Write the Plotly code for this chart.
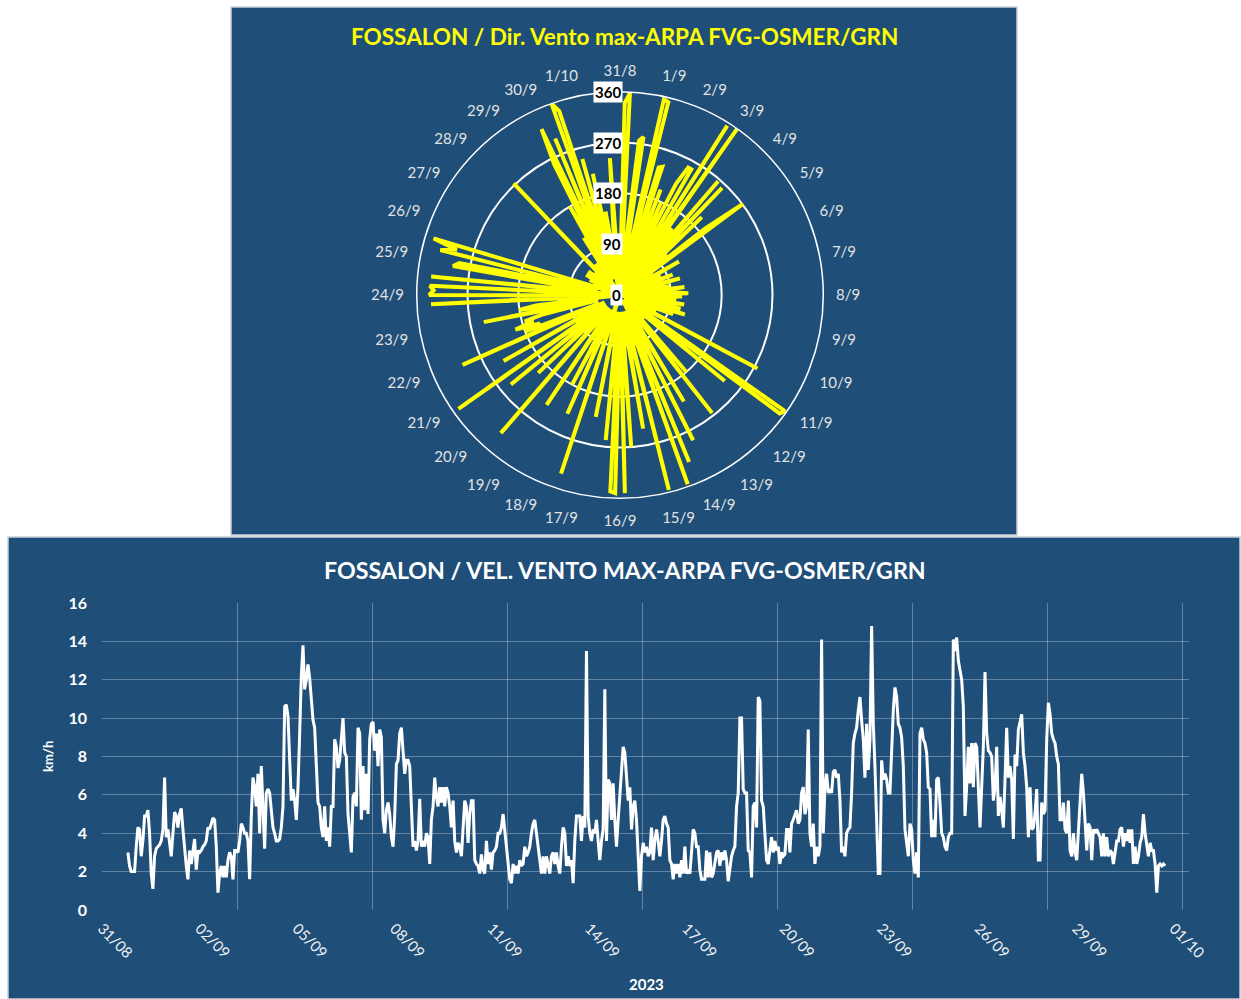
import pandas as pd
import plotly.graph_objects as go

W, H = 1241, 999
FONT = "Lato"
PANEL = "#1F4E79"
GRID = "rgba(255,255,255,0.30)"

# ---------------- data ----------------
# wind speed samples (km/h)
speed_kmh = [
    3.0, 2.3, 2.0, 2.0, 2.0, 3.3, 4.3, 4.2, 2.8, 3.6, 4.9, 4.9, 5.2, 4.0, 1.9, 1.1, 2.8, 3.2, 3.3, 3.4,
    3.6, 4.2, 6.9, 3.8, 4.2, 3.6, 2.8, 4.0, 5.1, 4.9, 4.3, 5.0, 5.3, 4.2, 3.0, 2.3, 1.6, 3.1, 2.4, 3.2,
    3.7, 2.1, 3.1, 3.0, 3.1, 3.3, 3.4, 3.6, 4.3, 4.2, 4.5, 4.8, 4.7, 3.3, 0.9, 1.9, 2.3, 1.7, 2.3, 1.7,
    2.6, 3.0, 2.8, 1.6, 3.1, 3.1, 3.0, 3.6, 4.5, 4.3, 4.0, 4.0, 3.6, 1.6, 4.9, 6.9, 6.4, 5.4, 7.1, 4.0,
    7.5, 5.4, 3.2, 6.1, 6.3, 6.1, 5.0, 4.3, 4.0, 3.6, 3.6, 3.7,
    4.3, 5.4, 10.6, 10.7, 10.1, 7.5, 5.7, 6.3, 5.7, 4.7, 6.4, 9.2, 12.2, 13.8, 11.5, 12.0, 12.8, 12.1, 10.9, 9.9,
    9.5, 7.1, 5.6, 5.4, 4.3, 3.8, 5.4, 3.6, 4.3, 3.3, 5.4, 5.4, 8.9, 8.5, 7.4, 7.8, 8.9, 10.0, 8.2, 8.0,
    5.0, 3.8, 3.0, 5.9, 6.1, 5.4, 9.5, 9.2, 4.7, 7.5, 5.2, 7.1, 5.0, 8.9, 9.7, 9.8, 8.3, 9.2, 7.5, 9.4,
    9.0, 4.7, 4.0, 5.2, 5.6, 5.0, 3.8, 3.3, 4.9, 7.6, 7.8, 9.2, 9.5, 8.3, 7.1, 7.8, 7.8, 7.5, 5.4, 3.3,
    3.6, 3.1, 3.6, 5.8, 3.3, 3.6, 3.3, 4.0, 3.8, 2.4, 4.7, 5.4, 6.9, 5.9, 5.4, 6.4, 5.6, 6.4, 5.4, 6.4,
    6.1, 5.4, 4.3, 5.7, 3.6,
    3.0, 3.5, 3.3, 2.8, 4.3, 5.7, 5.4, 3.5, 5.0, 5.7, 5.7, 2.6, 2.4, 2.3, 1.9, 2.9, 2.1, 1.9, 3.6, 2.4,
    3.0, 2.1, 3.0, 3.1, 3.3, 4.0, 4.0, 4.3, 5.0, 4.2, 3.1, 2.4, 1.6, 1.4, 2.4, 1.9, 2.3, 1.9, 2.6, 2.3,
    2.4, 3.3, 2.8, 3.0, 3.3, 4.0, 4.5, 4.7, 4.0, 3.0, 2.3, 1.9, 2.8, 1.9, 2.8, 2.4, 1.9, 2.8, 3.0, 2.4,
    3.0, 2.3, 1.9, 3.3, 4.3, 4.0, 2.3, 2.8, 2.3, 2.6, 1.4, 3.6, 4.9, 4.9, 4.9, 3.6, 4.9, 4.3, 13.5, 4.9,
    4.0, 3.6, 4.2, 4.0, 4.7, 3.6, 2.6, 3.6, 4.2, 11.5, 3.6, 6.8, 6.6, 4.7, 6.6, 4.7, 3.3, 4.7, 6.0, 7.1,
    8.5, 8.2, 7.1, 5.7, 6.4,
    4.2, 5.4, 5.7, 4.7, 2.6, 1.0, 2.8, 3.5, 3.0, 3.3, 2.8, 3.0, 4.3, 2.6, 3.6, 4.2, 3.6, 2.8, 3.6, 4.7,
    4.9, 4.5, 4.3, 2.6, 2.4, 1.6, 2.4, 1.9, 2.4, 1.7, 2.6, 1.9, 3.3, 1.9, 2.1, 1.9, 3.0, 4.2, 4.0, 3.3,
    3.3, 2.1, 1.6, 1.6, 1.6, 3.1, 1.7, 3.0, 1.7, 1.9, 2.4, 3.0, 3.1, 2.3, 3.0, 2.6, 3.1, 2.6, 1.5, 2.3,
    2.8, 3.1, 3.3, 5.4, 6.1, 10.0, 10.0, 6.3, 6.1, 6.1, 3.1, 3.0, 1.7, 5.4, 5.6, 4.3, 11.1, 10.9, 5.7, 5.4,
    4.0, 2.6, 2.4, 3.3, 3.8, 3.0, 3.6, 3.1, 3.3, 2.4, 3.0, 2.8, 2.9, 4.2, 4.2, 3.0, 4.5, 4.7, 5.0, 5.2,
    4.5, 4.7, 6.1, 6.4, 5.0,
    5.4, 9.4, 4.0, 3.3, 4.5, 2.4, 3.3, 2.8, 3.3, 14.1, 4.0, 6.4, 7.1, 6.1, 6.3, 6.1, 7.2, 7.3, 6.9, 7.1,
    5.7, 3.0, 3.3, 2.8, 4.0, 4.2, 4.3, 6.1, 8.7, 9.2, 9.5, 10.4, 11.1, 9.9, 8.9, 6.9, 9.7, 7.3, 8.9, 14.8,
    9.7, 7.5, 5.0, 1.9, 1.9, 7.8, 6.8, 7.1, 6.8, 6.1, 6.1, 8.5, 10.4, 11.6, 11.1, 9.7, 9.5, 9.0, 7.5, 4.2,
    3.3, 2.8, 4.5, 4.2, 2.6, 1.9, 3.0, 1.7, 9.2, 9.5, 8.9, 8.7, 8.2, 6.4, 6.3, 3.8, 4.7, 3.8, 6.8, 6.9,
    5.6, 4.0, 3.8, 3.3, 3.1, 3.8, 4.0, 4.0, 14.1, 13.5, 14.2, 13.0, 12.5, 12.0, 10.6, 4.9, 6.4, 8.5, 6.6, 8.7,
    6.4, 8.7, 8.5, 6.4, 4.3,
    6.4, 8.5, 12.4, 9.2, 8.3, 8.2, 8.0, 5.7, 6.4, 8.5, 4.9, 5.9, 5.2, 4.3, 6.8, 9.5, 6.9, 7.5, 6.8, 3.7,
    8.1, 7.5, 9.4, 9.9, 10.2, 8.2, 7.5, 6.4, 3.8, 6.4, 4.2, 4.3, 5.0, 6.3, 2.6, 2.6, 5.6, 5.0, 5.2, 8.9,
    10.8, 10.2, 9.2, 8.9, 8.7, 8.0, 7.6, 4.7, 4.7, 5.6, 4.2, 4.0, 5.7, 3.1, 2.8, 4.0, 3.0, 2.6, 4.3, 5.7,
    7.1, 6.1, 4.7, 3.1, 4.5, 4.3, 2.6, 4.2, 4.0, 4.2, 4.0, 3.8, 2.8, 4.0, 2.8, 3.8, 2.8, 3.1, 3.0, 2.4,
    3.0, 3.6, 3.6, 4.2, 4.3, 3.3, 4.0, 3.6, 4.2, 3.5, 4.2, 2.4, 3.3, 2.4, 2.8, 3.5, 3.8, 5.0, 4.0, 3.5,
    2.8, 3.5, 3.1, 3.1, 2.4, 0.9, 2.3, 2.4, 2.3, 2.4, 2.3,
]
SPEED_START = "2023-08-31 18:30"
SPEED_END = "2023-10-01 15:20"

# 3-hourly wind direction (degrees), plotted as radius against time
direction_deg = [
    30, 340, 358, 10, 50, 275, 283, 0,
    40, 355, 352, 0, 236, 239, 30, 200,
    10, 180, 50, 220, 256, 256, 0, 355,
    30, 360, 60, 150, 0, 266, 40, 262,
    10, 200, 50, 110, 30, 190, 271, 0,
    40, 70, 10, 120, 40, 80, 30, 60,
    40, 100, 0, 70, 50, 110, 35, 60,
    50, 90, 0, 115, 60, 40, 95, 121,
    0, 110, 50, 40, 100, 40, 115, 0,
    60, 110, 5, 90, 120, 40, 100, 50,
    40, 70, 30, 10, 276, 30, 60, 10,
    30, 357, 352, 10, 240, 30, 50, 30,
    35, 60, 30, 180, 10, 265, 35, 30,
    40, 30, 220, 35, 10, 288, 30, 40,
    320, 30, 356, 35, 40, 30, 356, 30,
    40, 240, 30, 35, 40, 270, 30, 351,
    30, 351, 348, 30, 258, 30, 40, 30,
    220, 30, 40, 30, 35, 333, 10, 40,
    30, 230, 35, 40, 180, 30, 50, 30,
    234, 30, 50, 40, 30, 323, 30, 40,
    40, 200, 30, 40, 250, 30, 40, 350,
    30, 50, 40, 237, 30, 50, 30, 305,
    40, 180, 150, 195, 160, 175, 140, 40,
    246, 40, 180, 150, 0, 50, 335, 30,
    338, 330, 337, 0, 336, 40, 50, 300,
    290, 40, 328, 300, 345, 50, 0, 40,
    30, 50, 0, 60, 40, 10, 70, 30,
    50, 5, 70, 30, 40, 60, 10, 50,
    30, 273, 5, 60, 40, 70, 30, 50,
    10, 120, 40, 180, 30, 259, 325, 40,
    300, 40, 360, 343, 30, 250, 40, 220,
    10, 150, 50, 30, 120, 243, 0, 40,
]
DIR_START = "2023-08-31 18:00"
DIR_FREQ = "3h"

radial_ticks = [0, 90, 180, 270, 360]
X_RANGE = ["2023-08-31 00:00", "2023-10-02 08:24"]
X_TICK0 = "2023-08-31"
X_TICK_STEP_DAYS = 2.9
GRID_DIVISIONS = 8.05

TITLE_TOP = "FOSSALON / Dir. Vento max-ARPA FVG-OSMER/GRN"
TITLE_BOTTOM = "FOSSALON / VEL. VENTO MAX-ARPA FVG-OSMER/GRN"


def px(x):
    return x / W


def py(y):
    return 1 - y / H


# ---------------- polar ----------------
dir_times = pd.date_range(DIR_START, periods=len(direction_deg), freq=DIR_FREQ)
cats = [t.strftime("%Y-%m-%d %H:%M") for t in dir_times]
tick_cats = [c for c, t in zip(cats, dir_times) if t.hour == 18]
tick_text = [f"{t.day}/{t.month}" for t in dir_times if t.hour == 18]

CX, CY, R = 620, 295, 203.3

fig = go.Figure()
fig.add_trace(go.Scatterpolar(
    r=direction_deg, theta=cats, mode="lines",
    line=dict(color="#FFFF00", width=4),
    hoverinfo="skip", showlegend=False,
))

# ---------------- line chart ----------------
speed_times = pd.date_range(SPEED_START, SPEED_END, periods=len(speed_kmh))
fig.add_trace(go.Scatter(
    x=speed_times, y=speed_kmh, mode="lines",
    line=dict(color="white", width=3),
    xaxis="x", yaxis="y", showlegend=False, hoverinfo="skip",
))
fig.add_trace(go.Scatter(
    x=[0, GRID_DIVISIONS], y=[None, None], mode="lines",
    xaxis="x2", yaxis="y", showlegend=False, hoverinfo="skip",
))

annotations = [
    dict(text=f"<b>{TITLE_TOP}</b>", x=px(624), y=py(37), xref="paper", yref="paper",
         showarrow=False, font=dict(family=FONT, size=22.5, color="#FFFF00"),
         xanchor="center", yanchor="middle"),
    dict(text=f"<b>{TITLE_BOTTOM}</b>", x=px(625), y=py(570), xref="paper", yref="paper",
         showarrow=False, font=dict(family=FONT, size=23.2, color="white"),
         xanchor="center", yanchor="middle"),
    dict(text="<b>2023</b>", x=px(646), y=py(984), xref="paper", yref="paper",
         showarrow=False, font=dict(family=FONT, size=15, color="white"),
         xanchor="center", yanchor="middle"),
    dict(text="<b>km/h</b>", x=px(48), y=py(757), xref="paper", yref="paper",
         showarrow=False, textangle=-90, font=dict(family=FONT, size=13, color="white"),
         xanchor="center", yanchor="middle"),
]
for v in radial_ticks:
    annotations.append(dict(
        text=f"<b>{v}</b>", x=px(CX + 3), y=py(CY - v / 360 * R), xref="paper", yref="paper",
        showarrow=False, xanchor="right", yanchor="middle", bgcolor="white", borderpad=1,
        font=dict(family=FONT, size=15, color="black"),
    ))

shapes = [
    dict(type="rect", xref="paper", yref="paper", x0=px(231), x1=px(1017), y0=py(535), y1=py(7),
         fillcolor=PANEL, line=dict(color="#C8D0D8", width=1.5), layer="below"),
    dict(type="rect", xref="paper", yref="paper", x0=px(8), x1=px(1240), y0=py(999), y1=py(537),
         fillcolor=PANEL, line=dict(color="#C8D0D8", width=1.5), layer="below"),
]

fig.update_layout(
    width=W, height=H, margin=dict(l=0, r=0, t=0, b=0, pad=0, autoexpand=False),
    paper_bgcolor="white", plot_bgcolor="rgba(0,0,0,0)",
    showlegend=False, annotations=annotations, shapes=shapes,
    polar=dict(
        domain=dict(x=[px(CX - R), px(CX + R)], y=[py(CY + R), py(CY - R)]),
        bgcolor="rgba(0,0,0,0)",
        angularaxis=dict(
            type="category", categoryorder="array", categoryarray=cats,
            rotation=90, direction="clockwise", showgrid=False,
            showline=True, linecolor="white", linewidth=1.5,
            ticks="outside", ticklen=9, tickcolor="rgba(0,0,0,0)",
            tickvals=tick_cats, ticktext=tick_text,
            tickfont=dict(family=FONT, size=15, color="#E2E2E2"),
        ),
        radialaxis=dict(
            range=[0, 360], tickvals=radial_ticks, showgrid=True, gridcolor="white",
            gridwidth=1.5, showline=False, showticklabels=False, ticks="",
        ),
    ),
    xaxis=dict(
        domain=[px(102), px(1189)], anchor="y", type="date", range=X_RANGE,
        tick0=X_TICK0, dtick=X_TICK_STEP_DAYS * 86400000, tickformat="%d/%m",
        tickangle=45, showgrid=False, zeroline=False, showline=False, ticks="",
        ticklabelstandoff=6, automargin=False,
        tickfont=dict(family=FONT, size=15, color="#F0F0F0"),
    ),
    xaxis2=dict(
        overlaying="x", anchor="y", range=[0, GRID_DIVISIONS], dtick=1,
        showgrid=True, gridcolor=GRID, gridwidth=1, showticklabels=False,
        zeroline=False, showline=False, ticks="", automargin=False,
    ),
    yaxis=dict(
        domain=[py(910), py(603)], anchor="x", range=[0, 16], dtick=2,
        showgrid=True, gridcolor=GRID, gridwidth=1, zeroline=False, showline=False,
        ticks="", ticklabelstandoff=14, automargin=False,
        tickfont=dict(family=FONT, size=16, color="white", weight="bold"),
    ),
)

fig.write_html(
    "out.html",
    config={"displayModeBar": False},
    post_script="document.body.style.margin='0px'; document.body.style.overflow='hidden';",
)
